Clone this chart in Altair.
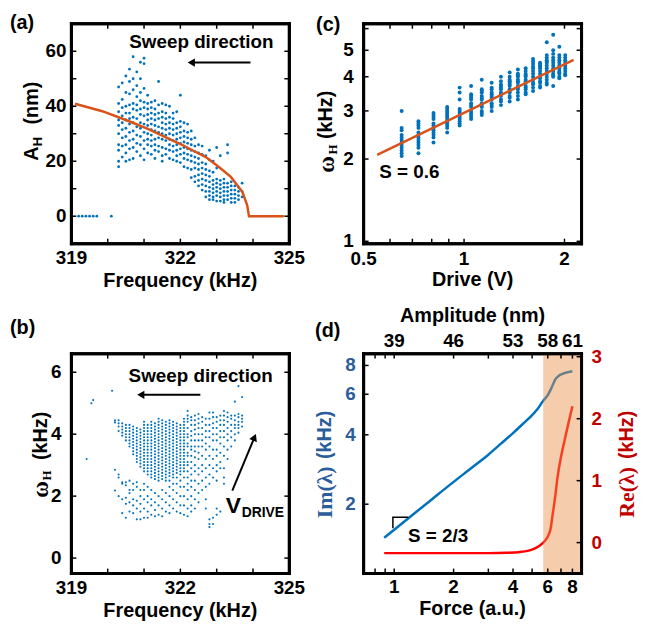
import altair as alt
import pandas as pd

SANS = "Liberation Sans"
SERIF = "Liberation Serif"
DOT = "#0072BD"
FIT = "#D95319"
IMC = "#2B5D9B"
REC = "#C00000"
LFS = 19
TFS = 20
TK = 5
W, H = 220, 222

# ---------------- (a) amplitude vs frequency ----------------
a_cols = [
    (320.3, [47, 41, 38, 35, 33, 30, 26, 24, 20, 18]),
    (320.4, [48.5, 42.5, 39.5, 36.5, 34, 31.5, 28.5, 25.5, 21.5]),
    (320.5, [51, 45, 40, 37.5, 35, 32, 29, 26, 23, 20]),
    (320.6, [53.5, 49, 44.5, 40.5, 37.5, 35.5, 33.5, 30.5, 27.5, 24.5, 20.5]),
    (320.7, [58, 50, 46, 41, 39, 36, 34, 31, 28, 25, 21]),
    (320.8, [52.5, 47.5, 43.5, 40.5, 38.5, 35.5, 32.5, 29.5, 26.5, 23.5]),
    (320.9, [56, 50, 45, 42, 39, 37, 34, 32, 29, 26, 22]),
    (321.0, [57.5, 55.5, 46.5, 41.5, 39.5, 36.5, 33.5, 30.5, 27.5, 24.5, 20.5]),
    (321.1, [44, 41, 39, 37, 35, 33, 30, 28, 26, 23]),
    (321.2, [41.5, 39.5, 37.5, 35.5, 33.5, 31.5, 29.5, 27.5, 25.5, 22.5]),
    (321.3, [42, 39, 37, 35, 33, 31, 28, 26, 24, 21]),
    (321.4, [49, 40.5, 37.5, 35.5, 32.5, 30.5, 28.5, 25.5, 23.5]),
    (321.5, [41, 38, 36, 34, 32, 30, 28, 25, 22, 20]),
    (321.6, [40.5, 37.5, 35.5, 33.5, 31.5, 29.5, 27.5, 24.5, 22.5]),
    (321.7, [40, 36, 34, 32, 30, 28, 26, 24, 21]),
    (321.8, [37.5, 35.5, 33.5, 31.5, 29.5, 27.5, 25.5, 23.5, 20.5]),
    (321.9, [38, 34, 32, 30, 28, 26, 24, 22, 20]),
    (322.0, [44, 34.5, 32.5, 30.5, 28.5, 26.5, 24.5, 22.5, 19.5]),
    (322.1, [34, 31, 29, 27, 25, 23, 21, 18]),
    (322.2, [33.5, 30.5, 28.5, 26.5, 24.5, 22.5, 20.5, 17.5]),
    (322.3, [31, 28, 26, 24, 22, 20, 17, 14]),
    (322.4, [28.5, 25.5, 23.5, 21.5, 19.5, 17.5, 14.5, 12.5]),
    (322.5, [26, 23, 21, 19, 17, 15, 13, 11]),
    (322.6, [25.5, 22.5, 19.5, 17.5, 15.5, 13.5, 11.5, 9.5]),
    (322.7, [22, 19, 17, 15, 13, 11, 9, 7]),
    (322.8, [24, 20.5, 16.5, 14.5, 12.5, 10.5, 9, 7.5, 6]),
    (322.9, [20, 16, 13, 11.5, 10, 8.5, 7, 6]),
    (323.0, [25, 17.5, 13.5, 12, 10.5, 9, 7.5, 5.5]),
    (323.1, [22, 13, 11.5, 10, 8.5, 7, 5.5]),
    (323.2, [13.5, 12, 10.5, 9, 7.5, 6, 5]),
    (323.3, [26, 23, 12, 10.5, 9, 7.5, 6]),
    (323.4, [12.5, 11, 9.5, 8, 6.5, 5]),
    (323.5, [11, 9.5, 8, 6.5, 5]),
    (323.6, [10.5, 9, 7.5, 6]),
    (323.7, [12, 9, 7]),
]
a_zero_freq = [319.2, 319.3, 319.4, 319.5, 319.6, 319.7, 320.1]
a_fit_freq = [319.1, 319.85, 320.5, 321.09, 321.78, 322.06, 322.33, 322.7, 323.07,
              323.39, 323.71, 323.84, 323.89, 324.85]
a_fit_amp = [40.9, 38.2, 35.0, 31.9, 27.6, 25.9, 24.0, 21.5, 17.8, 14.3, 8.8, 4.0, 0.0, 0.0]

# ---------------- (b) omega_H vs frequency ----------------
b_cols = [
    (320.2, [4.45, 4.38, 2.85, 2.18]),
    (320.3, [4.45, 4.35, 4.25, 4.1, 2.7, 2.6, 2.0]),
    (320.4, [4.35, 4.25, 4.15, 4.05, 3.95, 2.45, 2.4, 1.9, 1.45]),
    (320.5, [4.3, 4.2, 4.1, 4.0, 3.9, 3.8, 2.45, 2.35, 1.95, 1.75, 1.3]),
    (320.6, [4.3, 4.2, 4.1, 4.0, 3.9, 3.8, 3.7, 3.6, 2.5, 2.2, 2.1, 1.8, 1.5]),
    (320.7, [4.25, 4.15, 4.05, 3.95, 3.85, 3.75, 3.65, 3.55, 3.45, 3.35, 2.4, 2.2, 1.9, 1.7, 1.45]),
    (320.8, [4.2, 4.1, 4.0, 3.9, 3.8, 3.7, 3.6, 3.5, 3.4, 3.3, 3.2, 3.1, 2.45, 2.3, 1.85, 1.6, 1.25]),
    (320.9, [4.15, 4.05, 3.95, 3.85, 3.75, 3.65, 3.55, 3.45, 3.35, 3.25, 3.15, 3.05, 2.95, 2.2, 2.0,
             1.75, 1.5, 1.25]),
    (321.0, [4.4, 4.3, 4.2, 4.1, 4.0, 3.9, 3.8, 3.7, 3.6, 3.5, 3.4, 3.3, 3.2, 3.1, 3.0, 2.9, 2.8, 2.4,
             2.2, 1.9, 1.6, 1.3]),
    (321.1, [4.3, 4.2, 4.1, 4.0, 3.9, 3.8, 3.7, 3.6, 3.5, 3.4, 3.3, 3.2, 3.1, 3.0, 2.9, 2.8, 2.7, 2.3,
             2.0, 1.8, 1.5, 1.3]),
    (321.2, [4.4, 4.3, 4.2, 4.1, 4.0, 3.9, 3.8, 3.7, 3.6, 3.5, 3.4, 3.3, 3.2, 3.1, 3.0, 2.9, 2.8, 2.7,
             2.6, 2.2, 1.9, 1.7, 1.4]),
    (321.3, [4.35, 4.25, 4.15, 4.05, 3.95, 3.85, 3.75, 3.65, 3.55, 3.45, 3.35, 3.25, 3.15, 3.05, 2.95,
             2.85, 2.75, 2.65, 2.55, 2.1, 1.8, 1.55, 1.35]),
    (321.4, [4.5, 4.4, 4.3, 4.2, 4.1, 4.0, 3.9, 3.8, 3.7, 3.6, 3.5, 3.4, 3.3, 3.2, 3.1, 3.0, 2.9, 2.8,
             2.7, 2.6, 2.5, 2.0, 1.7, 1.4]),
    (321.5, [4.45, 4.35, 4.25, 4.15, 4.05, 3.95, 3.85, 3.75, 3.65, 3.55, 3.45, 3.35, 3.25, 3.15, 3.05,
             2.95, 2.85, 2.75, 2.65, 2.55, 2.2, 1.9, 1.6, 1.35]),
    (321.6, [4.4, 4.3, 4.2, 4.1, 4.0, 3.9, 3.8, 3.7, 3.6, 3.5, 3.4, 3.3, 3.2, 3.1, 3.0, 2.9, 2.8, 2.7,
             2.6, 2.5, 2.1, 1.8, 1.5]),
    (321.7, [4.45, 4.35, 4.25, 4.15, 4.05, 3.95, 3.85, 3.75, 3.65, 3.55, 3.45, 3.35, 3.25, 3.15, 3.05,
             2.95, 2.85, 2.75, 2.65, 2.5, 2.3, 2.0, 1.7, 1.45]),
    (321.8, [4.4, 4.3, 4.2, 4.1, 4.0, 3.9, 3.8, 3.7, 3.6, 3.5, 3.4, 3.3, 3.2, 3.1, 3.0, 2.9, 2.8, 2.7,
             2.6, 2.4, 2.2, 1.9, 1.6]),
    (321.9, [4.35, 4.25, 4.15, 4.05, 3.95, 3.85, 3.75, 3.65, 3.55, 3.45, 3.35, 3.25, 3.15, 3.05, 2.95,
             2.85, 2.75, 2.6, 2.4, 2.1, 1.8, 1.5]),
    (322.0, [4.3, 4.2, 4.1, 4.0, 3.9, 3.8, 3.7, 3.6, 3.5, 3.4, 3.3, 3.2, 3.1, 3.0, 2.9, 2.8, 2.7, 2.5,
             2.3, 2.0, 1.7, 1.45]),
    (322.1, [4.5, 4.4, 4.3, 4.2, 4.1, 4.0, 3.9, 3.8, 3.7, 3.6, 3.5, 3.4, 3.3, 3.2, 3.1, 3.0, 2.9, 2.8,
             2.6, 2.3, 2.0, 1.7, 1.4]),
    (322.2, [4.75, 4.6, 4.5, 4.4, 4.2, 4.0, 3.9, 3.7, 3.6, 3.4, 3.3, 3.1, 3.0, 2.8, 2.6, 2.4, 2.2, 1.9,
             1.6, 1.35]),
    (322.3, [4.55, 4.45, 4.3, 4.1, 3.95, 3.8, 3.6, 3.5, 3.3, 3.1, 2.9, 2.7, 2.5, 2.3, 2.0, 1.7, 1.5]),
    (322.4, [4.6, 4.45, 4.3, 4.15, 4.0, 3.8, 3.6, 3.45, 3.25, 3.0, 2.8, 2.5, 2.2, 1.9, 1.6]),
    (322.5, [4.65, 4.5, 4.35, 4.2, 4.0, 3.8, 3.6, 3.4, 3.2, 2.9, 2.7, 2.4, 2.1, 1.8]),
    (322.6, [4.55, 4.4, 4.2, 4.0, 3.8, 3.6, 3.3, 3.0, 2.8, 2.5, 2.2]),
    (322.7, [4.5, 4.3, 4.1, 3.9, 3.7, 3.5, 3.2, 2.9, 2.6, 2.3, 1.9, 1.6]),
    (322.8, [4.7, 4.5, 4.3, 4.1, 3.9, 3.6, 3.3, 3.0, 2.7, 2.4, 1.25, 1.1, 1.0]),
    (322.9, [4.7, 4.55, 4.35, 4.2, 4.0, 3.8, 3.5, 3.2, 2.9, 2.6, 1.3, 1.1]),
    (323.0, [4.55, 4.4, 4.2, 4.0, 3.8, 3.5, 3.3, 3.0, 2.8, 2.5, 1.6, 1.4]),
    (323.1, [4.6, 4.45, 4.3, 4.1, 3.9, 3.7, 3.4, 3.1, 2.9, 1.5]),
    (323.2, [4.75, 4.6, 4.45, 4.3, 4.1, 3.9, 3.6, 3.3, 2.9, 2.6, 2.4]),
    (323.3, [4.7, 4.55, 4.4, 4.2, 4.0, 3.8, 3.5, 3.2]),
    (323.4, [4.6, 4.5, 4.3, 4.1, 3.9, 3.6]),
    (323.5, [5.05, 4.6, 4.45, 4.3, 4.2, 4.0, 3.8]),
    (323.6, [5.55, 4.65, 4.55, 4.4, 4.3, 4.2, 4.05]),
    (323.7, [5.2, 4.6, 4.5, 4.4, 4.25]),
]
b_out_freq = [319.42, 319.55, 319.6, 320.12]
b_out_omega = [3.2, 5.0, 5.1, 5.4]

# ---------------- (c) omega_H vs drive (log-log) ----------------
c_cols = [
    (0.65, [3.0, 2.6, 2.55, 2.45, 2.4, 2.35, 2.3, 2.25, 2.2, 2.15, 2.1, 2.05]),
    (0.73, [2.75, 2.7, 2.65, 2.6, 2.5, 2.45, 2.4, 2.35, 2.3, 2.25, 2.2, 2.1]),
    (0.81, [2.95, 2.9, 2.85, 2.8, 2.7, 2.65, 2.6, 2.55, 2.5, 2.45, 2.4, 2.3]),
    (0.89, [3.1, 3.05, 3.0, 2.95, 2.9, 2.85, 2.8, 2.75, 2.7, 2.65, 2.6, 2.5]),
    (0.97, [3.65, 3.5, 3.3, 3.05, 3.0, 2.95, 2.9, 2.85, 2.8, 2.75, 2.7, 2.65]),
    (1.05, [3.7, 3.45, 3.4, 3.35, 3.3, 3.2, 3.15, 3.1, 3.0, 2.95, 2.9, 2.85, 2.8]),
    (1.13, [3.9, 3.6, 3.55, 3.5, 3.4, 3.35, 3.3, 3.2, 3.15, 3.1, 3.0, 2.95, 2.9]),
    (1.21, [3.8, 3.65, 3.6, 3.5, 3.45, 3.4, 3.35, 3.3, 3.2, 3.15, 3.1, 3.0]),
    (1.29, [4.0, 3.85, 3.75, 3.7, 3.65, 3.6, 3.5, 3.45, 3.4, 3.3, 3.25, 3.15]),
    (1.37, [4.15, 4.0, 3.9, 3.85, 3.8, 3.75, 3.7, 3.6, 3.55, 3.5, 3.4, 3.35, 3.25]),
    (1.45, [4.25, 4.1, 4.05, 4.0, 3.9, 3.85, 3.8, 3.7, 3.65, 3.6, 3.5, 3.4, 3.3]),
    (1.53, [4.3, 4.2, 4.1, 4.05, 4.0, 3.9, 3.85, 3.8, 3.7, 3.65, 3.6, 3.5, 3.45]),
    (1.61, [4.65, 4.55, 4.45, 4.35, 4.3, 4.2, 4.1, 4.0, 3.9, 3.8, 3.75, 3.65, 3.55]),
    (1.69, [4.5, 4.45, 4.4, 4.35, 4.3, 4.2, 4.1, 4.0, 3.95, 3.85, 3.8, 3.7, 3.65]),
    (1.77, [5.35, 4.8, 4.7, 4.6, 4.55, 4.5, 4.4, 4.3, 4.2, 4.1, 4.0, 3.9, 3.8, 3.75]),
    (1.85, [5.7, 5.0, 4.85, 4.7, 4.6, 4.5, 4.4, 4.3, 4.2, 4.1, 4.05, 4.0, 3.7]),
    (1.93, [5.15, 4.8, 4.7, 4.6, 4.5, 4.4, 4.3, 4.2, 4.15, 4.1, 4.0, 3.95]),
    (2.01, [4.8, 4.7, 4.6, 4.5, 4.4, 4.3, 4.2, 4.1, 4.05]),
]
c_fit_drive = [0.549, 2.13]
c_fit_omega = [2.07, 4.61]

# ---------------- (d) eigenvalues vs force ----------------
d_im_force = [0.89, 1.0, 1.5, 2.0, 2.5, 3.0, 3.5, 4.0, 4.5, 5.0, 5.3, 5.69, 6.0, 6.27, 6.55,
              6.8, 7.2, 7.6, 8.0]
d_im = [1.43, 1.55, 2.05, 2.5, 2.9, 3.28, 3.68, 4.07, 4.47, 4.87, 5.15, 5.62, 5.95, 6.4, 6.95,
        7.2, 7.38, 7.48, 7.55]
d_re_force = [0.89, 2.0, 3.0, 3.7, 4.27, 4.8, 5.1, 5.4, 5.6, 5.85, 6.05, 6.2, 6.35, 6.55, 6.72,
              7.0, 7.3, 7.6, 8.0]
d_re = [-0.17, -0.17, -0.17, -0.165, -0.155, -0.13, -0.1, -0.06, -0.02, 0.04, 0.12, 0.22, 0.45,
        0.75, 1.05, 1.38, 1.65, 1.9, 2.2]
d_unstable_from, d_unstable_to = 5.69, 8.9
d_slope_force = [0.985, 0.985, 1.179]
d_slope_im = [1.574, 1.757, 1.757]

# ---------------- ticks and tick labels ----------------
FTICKS = [319, 320, 321, 322, 323, 324, 325]
FLAB_V, FLAB_T = [319, 322, 325], ["319", "322", "325"]
a_yt = [0, 10, 20, 30, 40, 50, 60]
a_lab_v, a_lab_t = [0, 20, 40, 60], ["0", "20", "40", "60"]
b_yt = [0, 2, 4, 6]
b_lab_v, b_lab_t = [0, 2, 4, 6], ["0", "2", "4", "6"]
c_xt = [0.5, 0.6, 0.7, 0.8, 0.9, 1, 2]
c_xlab_v, c_xlab_t = [0.5, 1, 2], ["0.5", "1", "2"]
c_yt = [1, 2, 3, 4, 5, 6]
c_ylab_v, c_ylab_t = [1, 2, 3, 4, 5], ["1", "2", "3", "4", "5"]
d_xt = [0.8, 0.9, 1, 2, 3, 4, 5, 6, 7, 8]
d_xlab_v, d_xlab_t = [1, 2, 4, 6, 8], ["1", "2", "4", "6", "8"]
d_amp_t = ["39", "46", "53", "58", "61"]
d_imt = [2, 4, 6, 8]
d_im_t = ["2", "4", "6", "8"]
d_ret = [0, 1, 2, 3]
d_re_t = ["0", "1", "2", "3"]

# ---------------- scales ----------------
DOM_F, DOM_A, DOM_B = [319, 325], [-10, 70], [-0.5, 6.6]
DOM_CX, DOM_CY = [0.5, 2.25], [0.98, 6.25]
DOM_DX, DOM_IM, DOM_RE = [0.7, 8.9], [1, 9], [-0.5, 3.05]
XS_F = alt.Scale(domain=DOM_F, nice=False, zero=False)
YS_A = alt.Scale(domain=DOM_A, nice=False, zero=False)
YS_B = alt.Scale(domain=DOM_B, nice=False, zero=False)
XS_C = alt.Scale(type="log", domain=DOM_CX, nice=False)
YS_C = alt.Scale(type="log", domain=DOM_CY, nice=False)
XS_D = alt.Scale(type="log", domain=DOM_DX, nice=False)
YS_IM = alt.Scale(type="log", domain=DOM_IM, nice=False)
YS_RE = alt.Scale(domain=DOM_RE, nice=False, zero=False)


def X(f, s):
    return alt.X(f, scale=s, axis=None)


def Y(f, s):
    return alt.Y(f, scale=s, axis=None)


def shift(v, dom, px, total, log):
    """value px pixels away from v along a scale of the given domain and length"""
    if log:
        return v * (dom[1] / dom[0]) ** (px / total)
    return v + (dom[1] - dom[0]) * px / total


def box_ticks(xs, xdom, xlog, xt, ys, ydom, ylog, ytl, ys_r=None, ydom_r=None, ylog_r=None, ytr=None):
    """panel box and inward ticks, drawn as filled rectangles through the panel's scales"""
    if ys_r is None:
        ys_r, ydom_r, ylog_r, ytr = ys, ydom, ylog, ytl
    hx = lambda v, p: shift(v, xdom, p, W, xlog)
    hy = lambda v, p: shift(v, ydom, p, H, ylog)
    hr = lambda v, p: shift(v, ydom_r, p, H, ylog_r)
    x0, x1, y0, y1 = xdom[0], xdom[1], ydom[0], ydom[1]
    rows = [
        (hx(x0, -1.5), hx(x1, 1.5), hy(y0, -1.5), hy(y0, 1.5)),
        (hx(x0, -1.5), hx(x1, 1.5), hy(y1, -1.5), hy(y1, 1.5)),
        (hx(x0, -1.5), hx(x0, 1.5), hy(y0, -1.5), hy(y1, 1.5)),
        (hx(x1, -1.5), hx(x1, 1.5), hy(y0, -1.5), hy(y1, 1.5)),
    ]
    for v in xt:
        rows.append((hx(v, -0.75), hx(v, 0.75), y0, hy(y0, TK)))
        rows.append((hx(v, -0.75), hx(v, 0.75), hy(y1, -TK), y1))
    for v in ytl:
        rows.append((x0, hx(x0, TK), hy(v, -0.75), hy(v, 0.75)))
    left = pd.DataFrame(rows, columns=["x", "x2", "y", "y2"])
    rows_r = [(hx(x1, -TK), x1, hr(v, -0.75), hr(v, 0.75)) for v in ytr]
    right = pd.DataFrame(rows_r, columns=["x", "x2", "y", "y2"])
    out = []
    for d, s in ((left, ys), (right, ys_r)):
        out.append(alt.Chart(d).mark_rect(color="black", opacity=1).encode(
            x=X("x:Q", xs), x2=alt.X2("x2"), y=Y("y:Q", s), y2=alt.Y2("y2")))
    return out


def xlabels(vals, texts, xs, top=False, pad=5, color="black"):
    return alt.Chart(pd.DataFrame({"v": vals, "t": texts})).mark_text(
        font=SANS, fontSize=LFS, fontWeight="bold", color=color,
        baseline="alphabetic" if top else "top").encode(
        x=X("v:Q", xs), y=alt.value(-pad if top else H + pad), text="t:N")


def ylabels(vals, texts, ys, right=False, pad=5, color="black"):
    return alt.Chart(pd.DataFrame({"v": vals, "t": texts})).mark_text(
        font=SANS, fontSize=LFS, fontWeight="bold", color=color, baseline="middle",
        align="left" if right else "right").encode(
        y=Y("v:Q", ys), x=alt.value(W + pad if right else -pad), text="t:N")


def ptext(txt, x, y, size=TFS, font=SANS, weight="bold", angle=0, color="black",
          align="center", baseline="middle"):
    return alt.Chart(pd.DataFrame({"t": [txt]})).mark_text(
        text=txt, font=font, fontSize=size, fontWeight=weight, angle=angle, color=color,
        align=align, baseline=baseline).encode(x=alt.value(x), y=alt.value(y))


def dtext(txt, x, y, xs, ys, size=TFS, align="center", baseline="middle"):
    return alt.Chart(pd.DataFrame({"x": [x], "y": [y], "t": [txt]})).mark_text(
        font=SANS, fontSize=size, fontWeight="bold", color="black", align=align,
        baseline=baseline).encode(x=X("x:Q", xs), y=Y("y:Q", ys), text="t:N")


def arrow(x1, y1, x2, y2, xs, ys, shape, angle=0):
    shaft = alt.Chart(pd.DataFrame({"x": [x1], "y": [y1], "x2": [x2], "y2": [y2]})).mark_rule(
        color="black", strokeWidth=2).encode(
        x=X("x:Q", xs), y=Y("y:Q", ys), x2=alt.X2("x2"), y2=alt.Y2("y2"))
    head = alt.Chart(pd.DataFrame({"x": [x2], "y": [y2]})).mark_point(
        shape=shape, filled=True, size=70, color="black", opacity=1, angle=angle).encode(
        x=X("x:Q", xs), y=Y("y:Q", ys))
    return [shaft, head]


# ---------------- panel (a) ----------------
dfa = pd.DataFrame([(f, v) for f, col in a_cols for v in col] + [(f, 0.0) for f in a_zero_freq],
                   columns=["x", "y"])
panel_a = alt.layer(
    alt.Chart(dfa).mark_circle(size=8, color=DOT, opacity=1).encode(
        x=X("x:Q", XS_F), y=Y("y:Q", YS_A)),
    alt.Chart(pd.DataFrame({"x": a_fit_freq, "y": a_fit_amp})).mark_line(
        color=FIT, strokeWidth=2.5).encode(x=X("x:Q", XS_F), y=Y("y:Q", YS_A)),
    dtext("Sweep direction", 322.58, 63.2, XS_F, YS_A, size=LFS),
    *arrow(323.93, 55.9, 322.30, 55.9, XS_F, YS_A, "triangle-left"),
    *box_ticks(XS_F, DOM_F, False, FTICKS, YS_A, DOM_A, False, a_yt),
    xlabels(FLAB_V, FLAB_T, XS_F), ylabels(a_lab_v, a_lab_t, YS_A, pad=5),
    ptext("Frequency (kHz)", W / 2, H + 38),
    ptext("A", -40, 131, angle=270),
    ptext("H", -34, 119, size=13, angle=270),
    ptext("(nm)", -40, 80, angle=270),
    ptext("(a)", -62, -1, align="left"),
).properties(width=W, height=H)

# ---------------- panel (b) ----------------
dfb = pd.DataFrame([(f, v) for f, col in b_cols for v in col] + list(zip(b_out_freq, b_out_omega)),
                   columns=["x", "y"])
panel_b = alt.layer(
    alt.Chart(dfb).mark_circle(size=4.5, color=DOT, opacity=1).encode(
        x=X("x:Q", XS_F), y=Y("y:Q", YS_B)),
    dtext("Sweep direction", 322.56, 5.87, XS_F, YS_B, size=LFS),
    *arrow(322.55, 5.27, 320.91, 5.27, XS_F, YS_B, "triangle-left"),
    *arrow(323.43, 2.18, 324.04, 3.90, XS_F, YS_B, "triangle-up", angle=23),
    dtext("V", 323.25, 1.44, XS_F, YS_B, size=23, align="left", baseline="alphabetic"),
    dtext("DRIVE", 323.69, 1.34, XS_F, YS_B, size=14, align="left", baseline="alphabetic"),
    *box_ticks(XS_F, DOM_F, False, FTICKS, YS_B, DOM_B, False, b_yt),
    xlabels(FLAB_V, FLAB_T, XS_F, pad=6), ylabels(b_lab_v, b_lab_t, YS_B, pad=10),
    ptext("Frequency (kHz)", W / 2, H + 38),
    ptext("ω", -31, 137, size=23, font=SERIF, angle=270),
    ptext("H", -25, 123, size=13, font=SERIF, angle=270),
    ptext("(kHz)", -31, 83, angle=270),
    ptext("(b)", -62, -26, align="left"),
).properties(width=W, height=H)

# ---------------- panel (c) ----------------
dfc = pd.DataFrame([(d, v) for d, col in c_cols for v in col], columns=["x", "y"])
panel_c = alt.layer(
    alt.Chart(dfc).mark_circle(size=16, color=DOT, opacity=1).encode(
        x=X("x:Q", XS_C), y=Y("y:Q", YS_C)),
    alt.Chart(pd.DataFrame({"x": c_fit_drive, "y": c_fit_omega})).mark_line(
        color=FIT, strokeWidth=2.5).encode(x=X("x:Q", XS_C), y=Y("y:Q", YS_C)),
    dtext("S = 0.6", 0.557, 1.79, XS_C, YS_C, size=LFS, align="left"),
    *box_ticks(XS_C, DOM_CX, True, c_xt, YS_C, DOM_CY, True, c_yt),
    xlabels(c_xlab_v, c_xlab_t, XS_C, pad=7), ylabels(c_ylab_v, c_ylab_t, YS_C, pad=10),
    ptext("Drive (V)", W / 2, H + 37),
    ptext("ω", -37, 142, size=23, font=SERIF, angle=270),
    ptext("H", -31, 127, size=13, font=SERIF, angle=270),
    ptext("(kHz)", -38, 92, angle=270),
    ptext("(c)", -48, 1, align="left"),
).properties(width=W, height=H)

# ---------------- panel (d) ----------------
panel_d = alt.layer(
    alt.Chart(pd.DataFrame({"x": d_im_force, "y": d_im})).mark_line(
        color=DOT, strokeWidth=2.5, interpolate="monotone").encode(
        x=X("x:Q", XS_D), y=Y("y:Q", YS_IM)),
    alt.Chart(pd.DataFrame({"x": d_re_force, "y": d_re})).mark_line(
        color="#FF0000", strokeWidth=2.5, interpolate="monotone").encode(
        x=X("x:Q", XS_D), y=Y("y:Q", YS_RE)),
    alt.Chart(pd.DataFrame({"x": [d_unstable_from], "x2": [d_unstable_to]})).mark_rect(
        color="#E8914A", opacity=0.45, clip=True).encode(
        x=X("x:Q", XS_D), x2=alt.X2("x2"), y=alt.value(0), y2=alt.value(H)),
    *box_ticks(XS_D, DOM_DX, True, d_xt, YS_IM, DOM_IM, True, d_imt,
               YS_RE, DOM_RE, False, d_ret),
    alt.Chart(pd.DataFrame({"x": d_slope_force, "y": d_slope_im, "o": [0, 1, 2]})).mark_line(
        color="black", strokeWidth=1.5).encode(x=X("x:Q", XS_D), y=Y("y:Q", YS_IM), order="o:O"),
    dtext("S = 2/3", 1.175, 1.45, XS_D, YS_IM, size=LFS, align="left"),
    xlabels(d_xlab_v, d_xlab_t, XS_D),
    xlabels(d_xlab_v, d_amp_t, XS_D, top=True, pad=7),
    ylabels(d_imt, d_im_t, YS_IM, pad=8, color=IMC),
    ylabels(d_ret, d_re_t, YS_RE, right=True, pad=10, color=REC),
    ptext("Force (a.u.)", W / 2, H + 36),
    ptext("Amplitude (nm)", W / 2, -38),
    ptext("Im(λ)", -39, 140, size=22, font=SERIF, angle=270, color=IMC),
    ptext("(kHz)", -39, 82, angle=270, color=IMC),
    ptext("Re(λ)", W + 46, 140, size=22, font=SERIF, angle=270, color=REC),
    ptext("(kHz)", W + 46, 82, angle=270, color=REC),
    ptext("(d)", -49, -23, align="left"),
).resolve_scale(y="independent").properties(width=W, height=H)

chart = alt.concat(
    panel_a, panel_c, panel_b, panel_d, columns=2, bounds="flush",
    spacing={"row": 111, "column": 75},
).properties(padding=0, background="white").configure(font=SANS).configure_view(
    stroke="black", strokeWidth=3)

chart.save("out.html", embed_options={"renderer": "svg", "actions": False})
